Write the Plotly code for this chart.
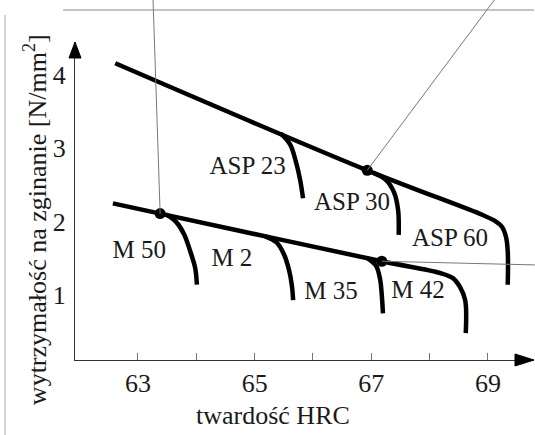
import plotly.graph_objects as go

# ---- data ----
asp_main_x = [62.61, 66.93, 68.91, 69.12, 69.24, 69.31, 69.34, 69.34]
asp_main_y = [4.16, 2.70, 2.09, 2.01, 1.93, 1.79, 1.59, 1.14]
asp23_x = [65.45, 65.61, 65.71, 65.78, 65.83]
asp23_y = [3.20, 3.05, 2.81, 2.57, 2.32]
asp30_x = [67.05, 67.25, 67.39, 67.46, 67.47]
asp30_y = [2.66, 2.57, 2.40, 2.16, 1.82]

m_main_x = [62.57, 63.38, 67.18, 68.18, 68.40, 68.52, 68.61, 68.62]
m_main_y = [2.25, 2.11, 1.46, 1.30, 1.23, 1.11, 0.93, 0.48]
m2_x = [63.48, 63.65, 63.79, 63.89, 63.98, 64.01]
m2_y = [2.10, 2.00, 1.83, 1.61, 1.37, 1.14]
m35_x = [65.18, 65.37, 65.50, 65.59, 65.64, 65.66]
m35_y = [1.80, 1.72, 1.56, 1.34, 1.12, 0.93]
m42_x = [66.94, 67.08, 67.15, 67.18, 67.20]
m42_y = [1.50, 1.40, 1.22, 1.00, 0.75]

dots_x = [63.38, 66.93, 67.18]
dots_y = [2.11, 2.70, 1.46]

label_text = ["ASP 23", "ASP 30", "ASP 60", "M 50", "M 2", "M 35", "M 42"]
label_x = [64.88, 66.67, 68.35, 63.02, 64.61, 66.31, 67.80]
label_y = [2.73, 2.25, 1.75, 1.59, 1.48, 1.03, 1.04]

x_tickvals = [63, 64, 65, 66, 67, 68, 69]
x_ticktext = ["63", "", "65", "", "67", "", "69"]
y_tickvals = [1, 2, 3, 4]
y_ticktext = ["1", "2", "3", "4"]

XR = [61.92, 69.79]
YR = [0.1135, 4.45]
FONT = "Liberation Serif"

fig = go.Figure()
curves = [(asp_main_x, asp_main_y), (asp23_x, asp23_y), (asp30_x, asp30_y),
          (m_main_x, m_main_y), (m2_x, m2_y), (m35_x, m35_y), (m42_x, m42_y)]
for cx, cy in curves:
    fig.add_trace(go.Scatter(x=cx, y=cy, mode="lines",
                             line=dict(color="black", width=4.5, shape="spline", smoothing=1.0),
                             hoverinfo="skip", showlegend=False))
fig.add_trace(go.Scatter(x=dots_x, y=dots_y, mode="markers",
                         marker=dict(color="black", size=11), showlegend=False, hoverinfo="skip"))
fig.add_trace(go.Scatter(x=label_x, y=label_y, mode="text", text=label_text,
                         textfont=dict(family=FONT, size=25, color="#1a1a1a"),
                         showlegend=False, hoverinfo="skip"))


def to_paper(x, y):
    return (x - XR[0]) / (XR[1] - XR[0]), (y - YR[0]) / (YR[1] - YR[0])


shapes = []
# leader lines from the dots out to the picture edges
ends = [(0.170, 1.135), (0.915, 1.135), (1.002, 0.299)]
for (dx, dy), (ex, ey) in zip(zip(dots_x, dots_y), ends):
    px, py = to_paper(dx, dy)
    shapes.append(dict(type="line", xref="paper", yref="paper", x0=px, y0=py, x1=ex, y1=ey,
                       line=dict(color="#777777", width=1)))
# scan frame remnants
shapes.append(dict(type="line", xref="paper", yref="paper", x0=-0.026, y0=1.1006, x1=1.0, y1=1.1006,
                   line=dict(color="#888888", width=1)))
shapes.append(dict(type="line", xref="paper", yref="paper", x0=-0.1525, y0=1.085, x1=-0.1525, y1=-0.236,
                   line=dict(color="#aaaaaa", width=1)))
# axis arrowheads
shapes.append(dict(type="path", xref="paper", yref="paper",
                   path="M 1.0 0 L 0.9586 0.0189 L 0.9586 -0.0189 Z",
                   fillcolor="black", line=dict(color="black", width=1)))
shapes.append(dict(type="path", xref="paper", yref="paper",
                   path="M 0 1.0 L 0.0131 0.9497 L -0.0131 0.9497 Z",
                   fillcolor="black", line=dict(color="black", width=1)))

fig.update_layout(
    width=535, height=435,
    margin=dict(l=75, r=1, t=42, b=75),
    paper_bgcolor="white", plot_bgcolor="white",
    font=dict(family=FONT, size=26, color="#1a1a1a"),
    shapes=shapes,
    xaxis=dict(range=XR, showgrid=False, zeroline=False, showline=True, linecolor="#333333",
               linewidth=1.2, tickvals=x_tickvals, ticktext=x_ticktext, ticks="inside",
               ticklen=7, tickcolor="#777777", tickwidth=1,
               tickfont=dict(family=FONT, size=26, color="#1a1a1a"), ticklabelstandoff=0),
    yaxis=dict(range=YR, showgrid=False, zeroline=False, showline=True, linecolor="#333333",
               linewidth=1.2, tickvals=y_tickvals, ticktext=y_ticktext, ticks="",
               tickfont=dict(family=FONT, size=26, color="#1a1a1a"), ticklabelstandoff=3),
    annotations=[
        dict(text="twardość HRC", xref="paper", yref="paper", x=0.431, y=-0.173,
             showarrow=False, font=dict(family=FONT, size=26), xanchor="center", yanchor="middle"),
        dict(text="wytrzymałość na zginanie [N/mm<sup>2</sup>]", xref="paper", yref="paper",
             x=-0.087, y=0.44, textangle=-90, showarrow=False,
             font=dict(family=FONT, size=26), xanchor="center", yanchor="middle"),
    ],
)

fig.write_html("out.html")
